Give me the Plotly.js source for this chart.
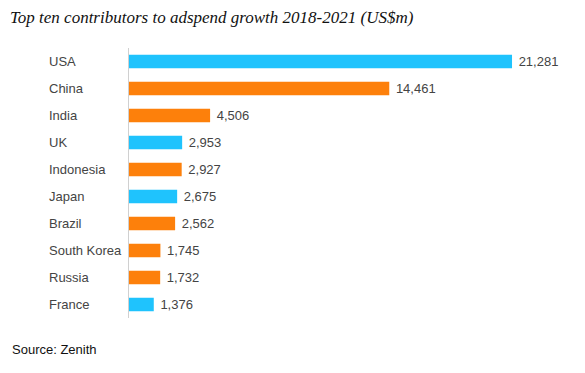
<!DOCTYPE html>
<html><head><meta charset="utf-8">
<script src="https://cdn.plot.ly/plotly-3.0.1.min.js"></script>
<style>html,body{margin:0;padding:0;background:#fff}</style>
</head><body><div id="chart" style="width:585px;height:373px"></div>
<script>
const countries = ["USA","China","India","UK","Indonesia","Japan","Brazil","South Korea","Russia","France"];
const growth = [21281,14461,4506,2953,2927,2675,2562,1745,1732,1376];
const colorGroup = ["c","o","o","c","o","c","o","o","o","c"];
const palette = {c:"#1fc3fd", o:"#fd800b"};

const trace = {
  type:"bar", orientation:"h",
  x: growth, y: countries,
  marker:{color: colorGroup.map(g=>palette[g]), line:{width:0}},
  texttemplate:" %{x:,}", textposition:"outside", cliponaxis:false, constraintext:"none",
  textfont:{family:"Liberation Sans, Arial, sans-serif", size:13, color:"#444"},
  hoverinfo:"none"
};
const annotations = countries.map(c=>({
  xref:"paper", yref:"y", x:-0.183, y:c, xanchor:"left", yanchor:"middle",
  text:c, showarrow:false,
  font:{family:"Liberation Sans, Arial, sans-serif", size:13, color:"#444"}
}));
annotations.push({xref:"paper", yref:"paper", x:-0.267, y:-0.118, xanchor:"left", yanchor:"middle",
  text:"Source: Zenith", showarrow:false,
  font:{family:"Liberation Sans, Arial, sans-serif", size:13, color:"#111"}});
const layout = {
  width:585, height:373,
  margin:{l:129, r:10, t:48, b:55},
  title:{text:"<i>Top ten contributors to adspend growth 2018-2021 (US$m)</i>",
    x:0.017, xanchor:"left", y:0.955, yanchor:"middle",
    font:{family:"Liberation Serif, Times New Roman, serif", size:17, color:"#111"}},
  xaxis:{range:[0,24780], visible:false, fixedrange:true},
  yaxis:{autorange:"reversed", showticklabels:false, showline:true, linecolor:"#d0d0d0", linewidth:1,
    ticks:"", showgrid:false, zeroline:false},
  bargap:0.5,
  showlegend:false,
  annotations: annotations,
  paper_bgcolor:"#fff", plot_bgcolor:"#fff"
};
Plotly.newPlot("chart",[trace],layout,{displayModeBar:false, staticPlot:true});
</script></body></html>
